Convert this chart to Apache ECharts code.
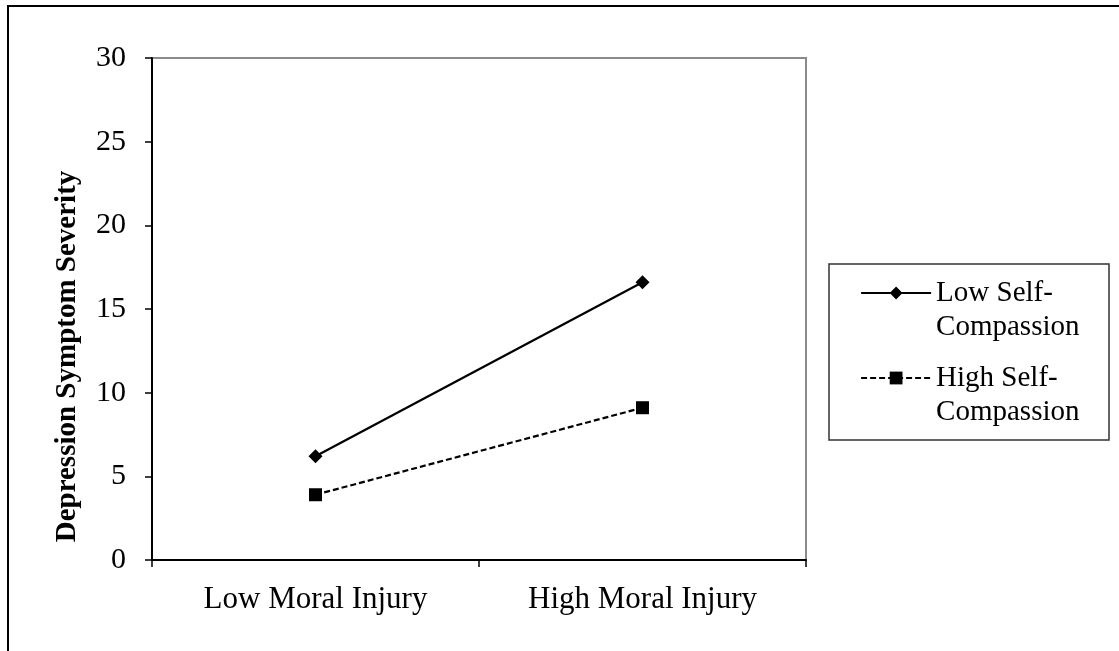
<!DOCTYPE html>
<html>
<head>
<meta charset="utf-8">
<script src="https://cdn.jsdelivr.net/npm/echarts@6/dist/echarts.min.js"></script>
<style>html,body{margin:0;padding:0;background:#fff;}#c{width:1119px;height:651px;}</style>
</head>
<body>
<div id="c"></div>
<script>
const categories = ['Low Moral Injury', 'High Moral Injury'];
const lowSelfCompassion = [6.2, 16.6];
const highSelfCompassion = [3.9, 9.1];
const seriesNames = ['Low Self-\nCompassion', 'High Self-\nCompassion'];
const yTicks = {min: 0, max: 30, interval: 5};
const yAxisTitle = 'Depression Symptom Severity';

const FONT = '"Liberation Serif", "Times New Roman", serif';
const chart = echarts.init(document.getElementById('c'), null, {renderer: 'canvas'});
chart.setOption({
  backgroundColor: '#fff',
  animation: false,
  textStyle: {fontFamily: FONT, color: '#000'},
  grid: {left: 152, top: 58, right: 313, bottom: 91, show: true, borderColor: '#8a8a8a', borderWidth: 2, backgroundColor: 'transparent'},
  graphic: [
    {type: 'rect', shape: {x: 8, y: 6, width: 1200, height: 700}, style: {fill: 'none', stroke: '#000', lineWidth: 2}, z: 0, silent: true},
    {type: 'rect', shape: {x: 829, y: 264, width: 280, height: 176}, style: {fill: 'none', stroke: '#333', lineWidth: 1.5}, z: 0, silent: true}
  ],
  legend: {
    orient: 'vertical',
    left: 860,
    top: 242,
    padding: 0,
    itemGap: -17,
    itemWidth: 70,
    itemHeight: 16,
    data: seriesNames,
    formatter: function (name) { return '\n' + name; },
    lineStyle: {width: 2.2},
    textStyle: {fontFamily: FONT, fontSize: 29, color: '#000', lineHeight: 34}
  },
  xAxis: {
    type: 'category',
    data: categories,
    boundaryGap: true,
    axisLine: {lineStyle: {color: '#000', width: 2}},
    axisTick: {show: true, length: 7, lineStyle: {color: '#000', width: 1.5}},
    axisLabel: {fontFamily: FONT, fontSize: 31, color: '#000', margin: 24},
    splitLine: {show: false}
  },
  yAxis: {
    type: 'value',
    min: yTicks.min, max: yTicks.max, interval: yTicks.interval,
    name: yAxisTitle,
    nameLocation: 'middle',
    nameGap: 70,
    nameTextStyle: {fontFamily: FONT, fontSize: 29, fontWeight: 'bold', color: '#000', padding: [0, 95, 0, 0]},
    axisLine: {show: true, lineStyle: {color: '#000', width: 2}},
    axisTick: {show: true, length: 7, lineStyle: {color: '#000', width: 1.5}},
    axisLabel: {fontFamily: FONT, fontSize: 30, color: '#000', margin: 26},
    splitLine: {show: false}
  },
  series: [
    {
      name: seriesNames[0], type: 'line', data: lowSelfCompassion,
      symbol: 'diamond', symbolSize: 14,
      lineStyle: {color: '#000', width: 2.2, type: 'solid'},
      itemStyle: {color: '#000'}
    },
    {
      name: seriesNames[1], type: 'line', data: highSelfCompassion,
      symbol: 'rect', symbolSize: 13,
      lineStyle: {color: '#000', width: 2.2, type: [6, 3]},
      itemStyle: {color: '#000'}
    }
  ]
});
</script>
</body>
</html>
